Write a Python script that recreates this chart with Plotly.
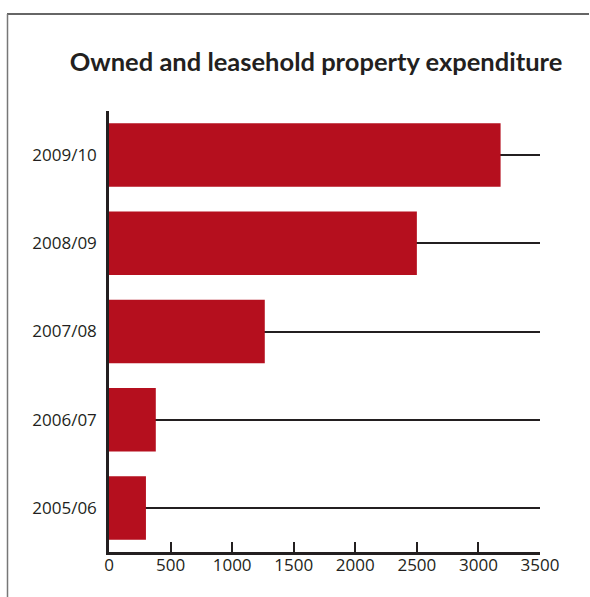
import plotly.graph_objects as go

# Property expenditure by financial year
years = ["2005/06", "2006/07", "2007/08", "2008/09", "2009/10"]
spend = [300, 380, 1265, 2500, 3180]
x_ticks = [0, 500, 1000, 1500, 2000, 2500, 3000, 3500]

ink = "#231f20"
red = "#b50f1e"

fig = go.Figure(
    go.Bar(
        x=spend,
        y=years,
        orientation="h",
        width=0.72,
        marker=dict(color=red, line=dict(width=0)),
        hoverinfo="x+y",
    )
)

W, H = 590, 597
L, R, T, B = 109, 50, 111, 45

fig.update_layout(
    width=W,
    height=H,
    margin=dict(l=L, r=R, t=T, b=B),
    paper_bgcolor="white",
    plot_bgcolor="white",
    showlegend=False,
    bargap=0.28,
    font=dict(family="Open Sans, sans-serif", color=ink, size=17),
    title=dict(
        text="<b>Owned and leasehold property expenditure</b>",
        font=dict(family="Lato, sans-serif", size=25.5, color=ink),
        x=316 / W,
        xanchor="center",
        xref="container",
        y=1 - 62 / H,
        yanchor="middle",
        yref="container",
    ),
    xaxis=dict(
        range=[0, 3500],
        tickvals=x_ticks,
        ticktext=[str(v) for v in x_ticks],
        showgrid=False,
        zeroline=False,
        showline=True,
        linecolor=ink,
        linewidth=2.5,
        ticks="inside",
        ticklen=10,
        tickwidth=2,
        tickcolor=ink,
        ticklabelstandoff=-4,
        tickfont=dict(size=17, color=ink),
        fixedrange=True,
    ),
    yaxis=dict(
        categoryorder="array",
        categoryarray=years,
        range=[-0.5, 4.5],
        showgrid=True,
        gridcolor=ink,
        gridwidth=2.3,
        zeroline=False,
        showline=True,
        linecolor=ink,
        linewidth=2.5,
        ticks="",
        ticklabelstandoff=6,
        tickfont=dict(size=17, color=ink),
        fixedrange=True,
    ),
)

# Frame lines along the top and left edges of the panel
pw, ph = W - L - R, H - T - B
def px_x(v):
    return (v - L) / pw

def px_y(v):
    return (H - B - v) / ph

fig.add_shape(type="line", xref="paper", yref="paper",
              x0=px_x(7), x1=px_x(589), y0=px_y(14), y1=px_y(14),
              line=dict(color="#333333", width=1.5))
fig.add_shape(type="line", xref="paper", yref="paper",
              x0=px_x(7.5), x1=px_x(7.5), y0=px_y(14), y1=px_y(597),
              line=dict(color="#777777", width=1.5))

fig.write_html("out.html")
